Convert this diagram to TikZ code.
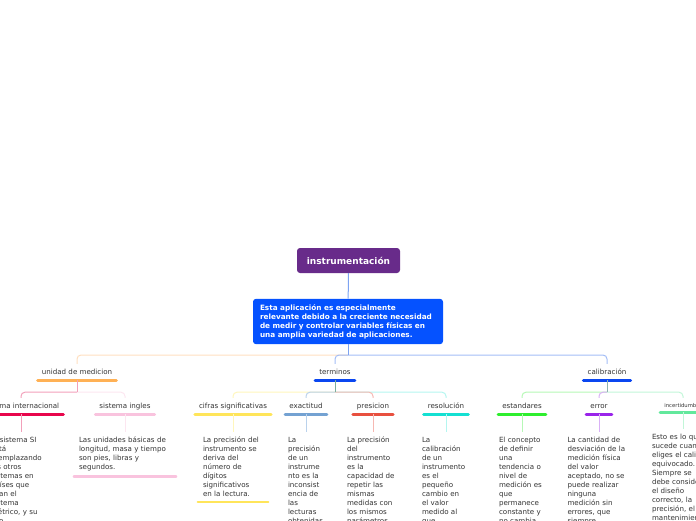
\documentclass[tikz,border=0pt]{standalone}
\usepackage{fontspec}
\setmainfont{DejaVu Sans}

\definecolor{txt}{HTML}{333333}
\definecolor{rootPurple}{HTML}{682B8A}
\definecolor{bodyBlue}{HTML}{0552FF}
\definecolor{stemBlue}{HTML}{7DA3F2}
\definecolor{cUnidad}{HTML}{FFB155}  \definecolor{cUnidadL}{HTML}{FFDFC0}
\definecolor{cTerm}{HTML}{0A46F0}    \definecolor{cTermL}{HTML}{A3BDF6}
\definecolor{cSisInt}{HTML}{E8064C}  \definecolor{cSisIntL}{HTML}{F2A0BA}
\definecolor{cSisIng}{HTML}{F9C3DE}  \definecolor{cSisIngL}{HTML}{FCE6F0}
\definecolor{cCifras}{HTML}{FFE55A}  \definecolor{cCifrasL}{HTML}{FFF6BC}
\definecolor{cExact}{HTML}{74A2D2}   \definecolor{cExactL}{HTML}{BAD2EC}
\definecolor{cPres}{HTML}{E8503F}    \definecolor{cPresL}{HTML}{F6B8B2}
\definecolor{cResol}{HTML}{14E0D2}   \definecolor{cResolL}{HTML}{B4F6F0}
\definecolor{cEstand}{HTML}{2EEE2E}  \definecolor{cEstandL}{HTML}{B6F8B6}
\definecolor{cError}{HTML}{9A24EA}   \definecolor{cErrorL}{HTML}{D9B0F6}
\definecolor{cIncert}{HTML}{62E89C}  \definecolor{cIncertL}{HTML}{C2F6D8}
\definecolor{cTermStem}{HTML}{7AAE9C}
\definecolor{cCalibStem}{HTML}{8FB3AE}

\begin{document}
\begin{tikzpicture}[x=1pt, y=-1pt,
  root/.style={fill=rootPurple, text=white, font=\fontsize{9}{11}\selectfont\bfseries,
    rounded corners=3pt, minimum width=103pt, minimum height=25pt},
  body/.style={fill=bodyBlue, text=white, font=\fontsize{7.3}{9}\selectfont\bfseries,
    rounded corners=3pt, align=left, text width=176pt, inner xsep=7pt, inner ysep=5.5pt},
  topic/.style={font=\fontsize{7.1}{9}\selectfont, text=txt, inner xsep=4pt, inner ysep=0pt,
    text height=5.5pt, text depth=1.5pt, minimum height=16pt},
  small topic/.style={topic, font=\fontsize{5.3}{7}\selectfont, minimum height=14pt},
  note/.style={font=\fontsize{7.1}{9}\selectfont, text=txt, align=left,
    inner xsep=5pt, inner ysep=5pt, anchor=north},
  uline/.style={line width=3pt, line cap=round},
  bar/.style={line width=2.5pt, line cap=round},
  link/.style={line width=1pt, rounded corners=4pt}]

  \def\yA{372}   % level-1 labels
  \def\yB{406}   % level-2 labels
  \def\yN{432}   % notes

  \useasboundingbox (0,0) rectangle (696,520);
  \clip (0,0) rectangle (696,520);

  % ----- centre -----
  \node[root] (root) at (348.5,260.5) {instrumentación};
  \node[body] (body) at (348,321.5) {Esta aplicación es especialmente\\
    relevante debido a la creciente necesidad\\
    de medir y controlar variables físicas en\\
    una amplia variedad de aplicaciones.};
  \draw[link, stemBlue] (root) -- (body);

  % ----- level 1 -----
  \node[topic] (unidad) at (77,\yA) {unidad de medicion};
  \node[topic] (terminos) at (335,\yA) {terminos};
  \node[topic] (calib) at (607,\yA) {calibración};

  \coordinate (bus) at (348,355);
  \draw[link, cUnidadL] (bus) -| (unidad.north);
  \draw[link, cTermL] (bus) -| (terminos.north);
  \draw[link, cTermL] (bus) -| (calib.north);
  \draw[link, stemBlue] (body.south) -- (bus);

  \draw[uline, cUnidad] (unidad.south west) -- (unidad.south east);
  \draw[uline, cTerm] (terminos.south west) -- (terminos.south east);
  \draw[uline, cTerm] (calib.south west) -- (calib.south east);

  % ----- level 2 -----
  \node[topic] (sisint) at (21,\yB) {sistema internacional};
  \node[topic] (sising) at (125,\yB) {sistema ingles};
  \node[topic] (cifras) at (233,\yB) {cifras significativas};
  \node[topic] (exact) at (306,\yB) {exactitud};
  \node[topic] (presic) at (373,\yB) {presicion};
  \node[topic] (resol) at (446,\yB) {resolución};
  \node[topic] (estand) at (522,\yB) {estandares};
  \node[topic] (error) at (599,\yB) {error};
  \node[small topic] (incert) at (683,405) {incertidumbre};

  \path (unidad.south) ++(0,12) coordinate (uBus);
  \path (terminos.south) ++(0,12) coordinate (tBus);
  \path (calib.south) ++(0,12) coordinate (cBus);

  \draw[link, cSisIntL] (uBus) -| (sisint.north);
  \draw[link, cSisIngL] (uBus) -| (sising.north);
  \draw[link, cSisIntL] (unidad.south) -- (uBus);

  \draw[link, cCifrasL] (tBus) -| (cifras.north);
  \draw[link, cExactL] (tBus) -| (exact.north);
  \draw[link, cResolL] (tBus) -| (resol.north);
  \draw[link, cPresL] (tBus) -| (presic.north);
  \draw[link, cTermStem] (terminos.south) -- (tBus);

  \draw[link, cEstandL] (cBus) -| (estand.north);
  \draw[link, cIncertL] (cBus) -| (incert.north);
  \draw[link, cErrorL] (cBus) -| (error.north);
  \draw[link, cCalibStem] (calib.south) -- (cBus);

  \foreach \n/\c in {sisint/cSisInt, sising/cSisIng, cifras/cCifras, exact/cExact,
      presic/cPres, resol/cResol, estand/cEstand, error/cError, incert/cIncert}
    \draw[uline, \c] (\n.south west) -- (\n.south east);

  % ----- notes -----
  \node[note, text width=52pt] (nSisint) at (17,\yN) {El sistema SI\\ está\\ reemplazando\\
    los otros\\ sistemas en\\ países que\\ usan el\\ sistema\\ métrico, y su\\ uso};
  \node[note, text width=92pt] (nSising) at (125,\yN) {Las unidades básicas de\\
    longitud, masa y tiempo\\ son pies, libras y\\ segundos.};
  \node[note, text width=60pt] (nCifras) at (233,\yN) {La precisión del\\ instrumento se\\
    deriva del\\ número de\\ dígitos\\ significativos\\ en la lectura.};
  \node[note, text width=36pt] (nExact) at (306,\yN) {La\\ precisión\\ de un\\ instrume\\
    nto es la\\ inconsist\\ encia de\\ las\\ lecturas\\ obtenidas};
  \node[note, text width=52pt] (nPresic) at (373,\yN) {La precisión\\ del\\ instrumento\\
    es la\\ capacidad de\\ repetir las\\ mismas\\ medidas con\\ los mismos\\ parámetros};
  \node[note, text width=48pt] (nResol) at (446,\yN) {La\\ calibración\\ de un\\ instrumento\\
    es el\\ pequeño\\ cambio en\\ el valor\\ medido al\\ que};
  \node[note, text width=46pt] (nEstand) at (522,\yN) {El concepto\\ de definir\\ una\\
    tendencia o\\ nivel de\\ medición es\\ que\\ permanece\\ constante y\\ no cambia};
  \node[note, text width=63pt] (nError) at (599,\yN) {La cantidad de\\ desviación de la\\
    medición física\\ del valor\\ aceptado, no se\\ puede realizar\\ ninguna\\
    medición sin\\ errores, que\\ siempre};
  \node[note, text width=62pt] (nIncert) at (683,429) {Esto es lo que\\ sucede cuando\\
    eliges el calibre\\ equivocado.\\ Siempre se\\ debe considerar\\ el diseño\\
    correcto, la\\ precisión, el\\ mantenimiento};

  \foreach \t/\n/\c in {sisint/nSisint/cSisIntL, sising/nSising/cSisIngL,
      cifras/nCifras/cCifrasL, exact/nExact/cExactL, presic/nPresic/cPresL,
      resol/nResol/cResolL, estand/nEstand/cEstandL, error/nError/cErrorL,
      incert/nIncert/cIncertL}
    \draw[link, \c] (\t.south) -- (\t.south |- \n.north);

  \draw[bar, cSisIng] (nSising.south west) -- (nSising.south east);
  \draw[bar, cCifras] (nCifras.south west) -- (nCifras.south east);
\end{tikzpicture}
\end{document}
